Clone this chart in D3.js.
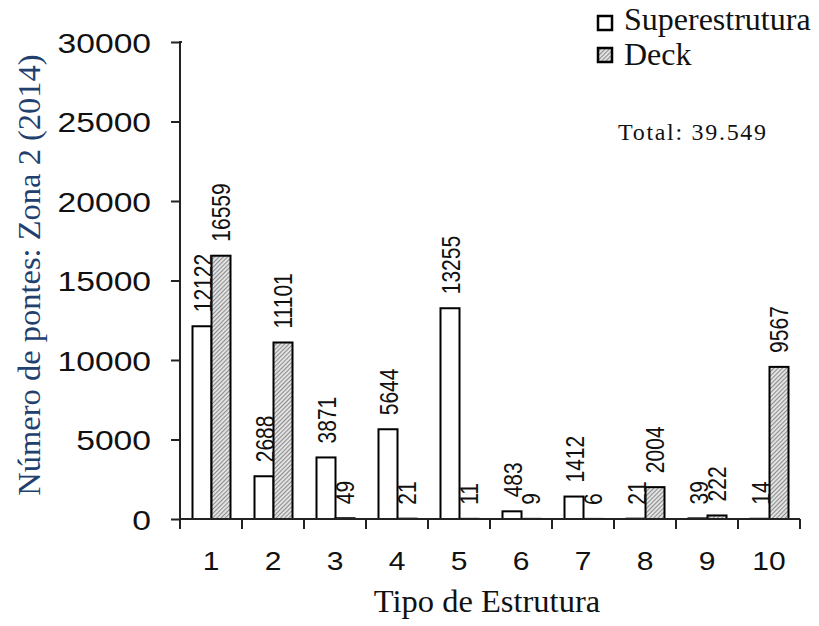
<!DOCTYPE html>
<html><head><meta charset="utf-8">
<script src="https://cdn.jsdelivr.net/npm/d3@7"></script>
<style>body{margin:0;background:#fff}svg{display:block}</style>
</head><body>
<svg id="c" width="819" height="626"></svg>
<script>
const categories = ["1","2","3","4","5","6","7","8","9","10"];
const superestrutura = [12122, 2688, 3871, 5644, 13255, 483, 1412, 21, 39, 14];
const deck = [16559, 11101, 49, 21, 11, 9, 6, 2004, 222, 9567];
const yTicks = [0, 5000, 10000, 15000, 20000, 25000, 30000];
const seriesNames = ["Superestrutura", "Deck"];

const svg = d3.select("#c");
const defs = svg.append("defs");
const pat = defs.append("pattern").attr("id","hatch").attr("patternUnits","userSpaceOnUse")
  .attr("width",3).attr("height",3).attr("patternTransform","rotate(45)");
pat.append("rect").attr("width",3).attr("height",3).attr("fill","#e6e6e6");
pat.append("rect").attr("width",1.1).attr("height",3).attr("fill","#8c8c8c");

const x = d3.scaleBand().domain(categories).range([180, 800]).padding(0);
const y = d3.scaleLinear().domain([0, 30000]).range([519, 42]);
const bw = 19;
const stretch = 1.2;
const sans = "'Liberation Sans', Arial, sans-serif";
const serif = "'Liberation Serif', 'Times New Roman', serif";

// bars
const g = svg.append("g");
categories.forEach((c, i) => {
  const cx = x(c) + x.bandwidth()/2 + 0.5;
  g.append("rect").attr("x", cx - bw).attr("y", y(superestrutura[i])).attr("width", bw)
    .attr("height", y(0) - y(superestrutura[i])).attr("fill","#fff").attr("stroke","#000").attr("stroke-width",2);
  g.append("rect").attr("x", cx).attr("y", y(deck[i])).attr("width", bw)
    .attr("height", y(0) - y(deck[i])).attr("fill","url(#hatch)").attr("stroke","#000").attr("stroke-width",2);
});
// value labels
categories.forEach((c, i) => {
  const cx = x(c) + x.bandwidth()/2 + 0.5;
  [[superestrutura[i], cx - bw/2 + 1], [deck[i], cx + bw/2]].forEach(([v, px]) => {
    const ty = Math.min(y(v) - 14, 505);
    g.append("text").attr("transform", `translate(${px},${ty}) scale(${stretch},1) rotate(-90)`)
      .attr("dy","0.35em").attr("font-family", sans).attr("font-size", 21)
      .attr("fill","#111").text(v);
  });
});

// axes
const yAxis = svg.append("g").attr("transform","translate(180,0)")
  .call(d3.axisLeft(y).tickValues(yTicks).tickSize(9).tickPadding(20).tickFormat(d3.format("d")));
yAxis.selectAll("text").attr("font-family", sans).attr("font-size", 28).attr("fill","#111")
  .attr("dy","0.36em");
const xAxis = svg.append("g").attr("transform","translate(0,519)")
  .call(d3.axisBottom(x).tickSize(0).tickPadding(33));
xAxis.selectAll("text").attr("font-family", sans).attr("font-size", 25).attr("fill","#111");
[yAxis, xAxis].forEach(a => a.selectAll("text").each(function() {
  const L = this.getComputedTextLength();
  d3.select(this).attr("textLength", L * stretch).attr("lengthAdjust","spacingAndGlyphs");
}));
// x boundary ticks
const bounds = categories.map(c => x(c)).concat([x.range()[1]]);
svg.append("g").selectAll("line").data(bounds).join("line")
  .attr("x1", d => d).attr("x2", d => d).attr("y1", 519).attr("y2", 529)
  .attr("stroke","#222").attr("stroke-width",2);
[yAxis, xAxis].forEach(a => {
  a.selectAll(".domain").attr("stroke","#222").attr("stroke-width",2);
  a.selectAll(".tick line").attr("stroke","#222").attr("stroke-width",2);
});
xAxis.select(".domain").attr("d", `M180,0H${x.range()[1]}`);
yAxis.select(".domain").attr("d", "M2,42H0V519");

// titles
svg.append("text").attr("transform","translate(40,275) rotate(-90)").attr("text-anchor","middle")
  .attr("font-family", serif).attr("font-size", 32.5).attr("fill","#22406e").text("Número de pontes: Zona 2 (2014)");
svg.append("text").attr("x", 487).attr("y", 612).attr("text-anchor","middle")
  .attr("font-family", serif).attr("font-size", 32.5).attr("fill","#111").text("Tipo de Estrutura");

// legend
const leg = svg.append("g");
seriesNames.forEach((n, i) => {
  const ly = 16 + i * 32;
  leg.append("rect").attr("x", 598).attr("y", ly).attr("width", 14).attr("height", 14)
    .attr("fill", i === 0 ? "#fff" : "url(#hatch)").attr("stroke","#000").attr("stroke-width",2.5);
  leg.append("text").attr("x", 624).attr("y", ly + 14 + (i ? 3 : 0)).attr("font-family", serif).attr("font-size", 32)
    .attr("fill","#111").text(n);
});
svg.append("text").attr("x", 618).attr("y", 140).attr("font-family", serif).attr("font-size", 24)
  .attr("letter-spacing", 1.7).attr("fill","#111").text("Total: 39.549");
</script>
</body></html>
